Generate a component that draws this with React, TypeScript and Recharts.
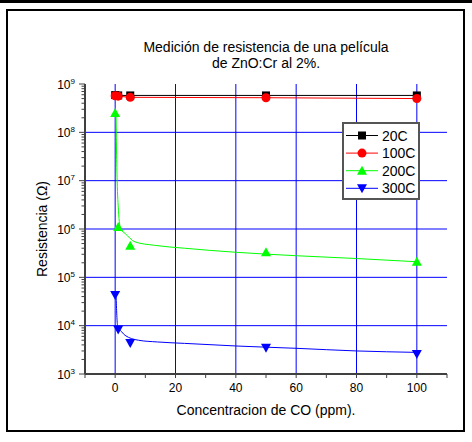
import React from "react";
import {
  ComposedChart,
  Line,
  XAxis,
  YAxis,
  ReferenceLine,
  Legend,
} from "recharts";

// measured points
const ppm = [0, 1, 5, 50, 100];
const r20C = [5.9e8, 5.8e8, 5.8e8, 5.8e8, 5.8e8];
const r100C = [5.7e8, 5.6e8, 5.3e8, 5.2e8, 5.0e8];
const r200C = [2.5e8, 1.1e6, 4.5e5, 3.3e5, 2.1e5];
const r300C = [4.3e4, 8.3e3, 4.4e3, 3.5e3, 2.6e3];

// fitted curves
const fit200Ppm = [0.3, 0.45, 0.66, 1.1, 1.8, 3.3, 6.6, 13, 23, 40, 60, 80, 100];
const fit200C = [2.5e8, 4.3e7, 1e7, 2.4e6, 1.0e6, 8.1e5, 5.4e5, 4.6e5, 4.0e5, 3.3e5, 2.8e5, 2.45e5, 2.1e5];
const fit300Ppm = [0.3, 0.8, 2.2, 3.3, 7.7, 14, 23, 40, 60, 80, 100];
const fit300C = [4.3e4, 1e4, 7.4e3, 6.3e3, 5.0e3, 4.6e3, 4.3e3, 3.8e3, 3.4e3, 3.0e3, 2.8e3];

// axes
const xTicks = [-10, 0, 10, 20, 30, 40, 50, 60, 70, 80, 90, 100, 110];
const xLabels = [0, 20, 40, 60, 80, 100];
const decades = [3, 4, 5, 6, 7, 8, 9];
const yGrid = [1e4, 1e5, 1e6, 1e7, 1e8];
const yTicks = decades.flatMap((d) =>
  d === 9 ? [1e9] : [1, 2, 3, 4, 5, 6, 7, 8, 9].map((m) => m * Math.pow(10, d))
);

const seriesNames = ["20C", "100C", "200C", "300C"];
const seriesColors = ["#000000", "#ff0000", "#00ff00", "#0000ff"];
const seriesMarks = ["square", "circle", "up", "down"];

const FONT = "'Liberation Sans', Arial, sans-serif";
const AXIS = "#404040";

const toRows = (xs: number[], ys: number[]) => xs.map((x, i) => ({ x, r: ys[i] }));

function marker(kind: string, cx: number, cy: number, color: string, key?: string) {
  if (kind === "square")
    return <rect key={key} x={cx - 4} y={cy - 4} width={8} height={8} fill={color} />;
  if (kind === "circle") return <circle key={key} cx={cx} cy={cy} r={4.5} fill={color} />;
  if (kind === "up")
    return <polygon key={key} points={`${cx},${cy - 5} ${cx - 5},${cy + 4} ${cx + 5},${cy + 4}`} fill={color} />;
  return <polygon key={key} points={`${cx},${cy + 5} ${cx - 5},${cy - 4} ${cx + 5},${cy - 4}`} fill={color} />;
}

const dotFor = (i: number) => (p: any) =>
  marker(seriesMarks[i], p.cx, p.cy, seriesColors[i], `dot-${i}-${p.index}`);

function XTick({ x, y, payload }: any) {
  const v = payload.value;
  return (
    <g>
      <line x1={x} y1={y} x2={x} y2={y + 4} stroke={AXIS} strokeWidth={1} />
      {xLabels.includes(v) && (
        <text x={x} y={y + 18} textAnchor="middle" fontSize={12} fontFamily={FONT} fill="#000">
          {v}
        </text>
      )}
    </g>
  );
}

function YTick({ x, y, payload }: any) {
  const lg = Math.log10(payload.value);
  const major = Math.abs(lg - Math.round(lg)) < 1e-6;
  return (
    <g>
      <line x1={x - (major ? 6 : 3.5)} y1={y} x2={x} y2={y} stroke={AXIS} strokeWidth={1} />
      {major && (
        <text x={x - 10} y={y + 4.5} textAnchor="end" fontSize={12} fontFamily={FONT} fill="#000">
          10
          <tspan dy={-5} fontSize={8}>
            {Math.round(lg)}
          </tspan>
        </text>
      )}
    </g>
  );
}

function LegendBox() {
  return (
    <svg width={78} height={78} style={{ display: "block" }}>
      <rect x={1} y={1} width={76} height={76} fill="#fff" stroke="#555" strokeWidth={2} />
      {seriesNames.map((name, i) => {
        const cy = 13.5 + i * 17.6;
        return (
          <g key={name}>
            <line x1={4} y1={cy} x2={36} y2={cy} stroke={seriesColors[i]} strokeWidth={1} />
            {marker(seriesMarks[i], 20, cy, seriesColors[i])}
            <text x={40} y={cy + 5} fontSize={14} fontFamily={FONT} fill="#000">
              {name}
            </text>
          </g>
        );
      })}
    </svg>
  );
}

export default function App() {
  return (
    <div style={{ position: "absolute", left: 0, top: 0, width: 472, height: 442, background: "#fff" }}>
      <svg width={472} height={442} style={{ position: "absolute", left: 0, top: 0 }}>
        <line x1={0} y1={1.5} x2={472} y2={1.5} stroke="#000" strokeWidth={3} />
        <rect x={7} y={10} width={457} height={421} fill="none" stroke="#000" strokeWidth={2} />
        <text x={266} y={52} textAnchor="middle" fontSize={14} fontFamily={FONT} fill="#000">
          Medición de resistencia de una película
        </text>
        <text x={266} y={68} textAnchor="middle" fontSize={14} fontFamily={FONT} fill="#000">
          de ZnO:Cr al 2%.
        </text>
        <text x={266} y={415} textAnchor="middle" fontSize={14} fontFamily={FONT} fill="#000">
          Concentracion de CO (ppm).
        </text>
        <text
          x={47}
          y={229}
          textAnchor="middle"
          fontSize={14}
          fontFamily={FONT}
          fill="#000"
          transform="rotate(-90 47 229)"
        >
          Resistencia (Ω)
        </text>
      </svg>
      <div style={{ position: "absolute", left: 0, top: 0 }}>
        <ComposedChart width={472} height={442} margin={{ top: 84, right: 25, bottom: 38, left: 25 }}>
          <XAxis
            type="number"
            dataKey="x"
            domain={[-10, 110]}
            ticks={xTicks}
            interval={0}
            allowDataOverflow
            height={30}
            tickSize={0}
            tickMargin={0}
            tickLine={false}
            tick={<XTick />}
            axisLine={{ stroke: AXIS, strokeWidth: 2 }}
          />
          <YAxis
            type="number"
            dataKey="r"
            scale="log"
            domain={[1e3, 1e9]}
            ticks={yTicks}
            interval={0}
            allowDataOverflow
            width={60}
            tickSize={0}
            tickMargin={0}
            tickLine={false}
            tick={<YTick />}
            axisLine={{ stroke: AXIS, strokeWidth: 2 }}
          />
          {xLabels.map((v) => (
            <ReferenceLine key={`gx-${v}`} x={v} stroke="#0000ff" strokeWidth={1} />
          ))}
          {yGrid.map((v) => (
            <ReferenceLine key={`gy-${v}`} y={v} stroke="#0000ff" strokeWidth={1} />
          ))}
          <Line
            data={toRows(fit200Ppm, fit200C)}
            dataKey="r"
            type="monotone"
            stroke="#00ff00"
            strokeWidth={1}
            dot={false}
            activeDot={false}
            isAnimationActive={false}
            legendType="none"
          />
          <Line
            data={toRows(fit300Ppm, fit300C)}
            dataKey="r"
            type="monotone"
            stroke="#0000ff"
            strokeWidth={1}
            dot={false}
            activeDot={false}
            isAnimationActive={false}
            legendType="none"
          />
          <Line
            data={toRows(ppm, r20C)}
            dataKey="r"
            name="20C"
            type="linear"
            stroke="#000000"
            strokeWidth={1}
            dot={dotFor(0)}
            activeDot={false}
            isAnimationActive={false}
          />
          <Line
            data={toRows(ppm, r100C)}
            dataKey="r"
            name="100C"
            type="linear"
            stroke="#ff0000"
            strokeWidth={1}
            dot={dotFor(1)}
            activeDot={false}
            isAnimationActive={false}
          />
          <Line
            data={toRows(ppm, r200C)}
            dataKey="r"
            name="200C"
            stroke="none"
            dot={dotFor(2)}
            activeDot={false}
            isAnimationActive={false}
          />
          <Line
            data={toRows(ppm, r300C)}
            dataKey="r"
            name="300C"
            stroke="none"
            dot={dotFor(3)}
            activeDot={false}
            isAnimationActive={false}
          />
          <Legend
            layout="vertical"
            align="center"
            verticalAlign="middle"
            content={() => <LegendBox />}
            wrapperStyle={{ position: "absolute", left: 342, top: 122, width: 78, height: 78 }}
          />
        </ComposedChart>
      </div>
    </div>
  );
}
